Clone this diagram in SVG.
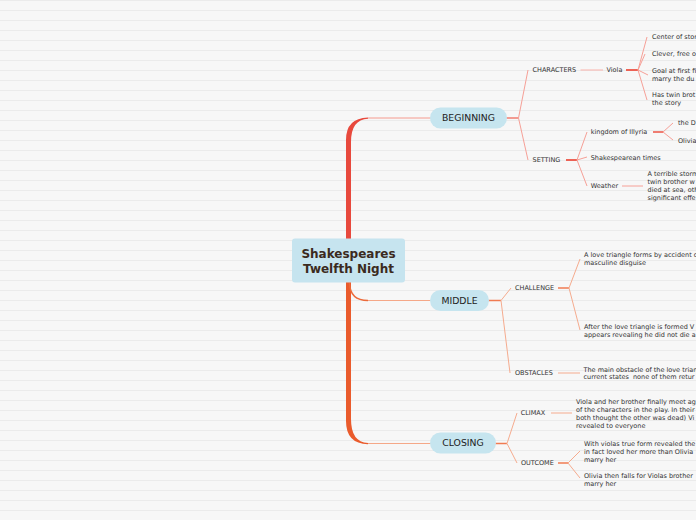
<svg xmlns="http://www.w3.org/2000/svg" width="696" height="520" viewBox="0 0 696 520">
<defs>
<pattern id="bgl" x="0" y="0" width="696" height="10" patternUnits="userSpaceOnUse">
<rect width="696" height="10" fill="#f7f7f7"/>
<rect y="0" width="696" height="1" fill="#ebebeb"/>
</pattern>
<style>
.t{font-family:"DejaVu Sans",Verdana,sans-serif;font-size:6.5px;fill:#333;white-space:pre}
.p{font-family:"DejaVu Sans",Verdana,sans-serif;font-size:9.3px;fill:#222;text-anchor:middle}
.c{font-family:"DejaVu Sans",Verdana,sans-serif;font-size:12px;font-weight:bold;fill:#3b2a20;text-anchor:middle}
.pill{fill:#c6e5ef}
.tl{stroke:#f6a097;stroke-width:1;fill:none}
.tk{stroke:#ec5345;stroke-width:1.8;fill:none}
.ml{stroke:#f5ab8e;stroke-width:1;fill:none}
.mk{stroke:#f07b52;stroke-width:1.8;fill:none}
</style>
</defs>
<rect width="696" height="520" fill="url(#bgl)"/>

<g id="connectors">
<path d="M346,240 L346,140 Q346,118.2 368,117.6 L368,118.8 Q351,119.6 351,142 L351,240 Z" fill="#e8493d"/>
<path d="M346,281 L346,421 Q346,443.8 368,444.2 L368,443 Q351,442.2 351,419 L351,281 Z" fill="#ea5b2c"/>
<path d="M349.5,283 Q350,300.5 368,300.5" stroke="#ec6a3a" stroke-width="1.5" fill="none"/>
<line x1="368" y1="118" x2="431" y2="118" stroke="#f59a8e" stroke-width="1"/>
<line x1="368" y1="300.5" x2="431" y2="300.5" stroke="#f5a888" stroke-width="1"/>
<line x1="368" y1="443.5" x2="431" y2="443.5" stroke="#f5a888" stroke-width="1"/>

<line class="tk" x1="506" y1="118" x2="518.5" y2="118" style="stroke-width:1.5;stroke:#f07c70"/>
<path class="tl" d="M518.5,118 L528,70 M518.5,118 L528,160"/>
<line class="tl" x1="580.5" y1="70" x2="603" y2="70" style="stroke:#f9b2ab"/>
<line class="tk" x1="626" y1="70" x2="638" y2="70"/>
<path class="tl" d="M638,70 L647,37 M638,70 L645,54 M638,70 L648,75 M638,70 L647,100"/>
<line class="tk" x1="566" y1="160" x2="577" y2="160"/>
<path class="tl" d="M577,160 L587,132 M577,160 L587,157 M577,160 L587,186"/>
<line class="tk" x1="653" y1="132" x2="663" y2="132" style="stroke-width:1.5"/>
<path class="tl" d="M663,132 L673,123 M663,132 L673,140"/>
<line class="tl" x1="622" y1="186" x2="643" y2="186"/>

<line class="mk" x1="488" y1="300.5" x2="501" y2="300.5" style="stroke-width:1.5"/>
<path class="ml" d="M501,300.5 L511,288 M501,300.5 L510,373"/>
<line class="mk" x1="558" y1="288" x2="569" y2="288" style="stroke-width:1.5"/>
<path class="ml" d="M569,288 L580,259 M569,288 L580,330"/>
<line class="ml" x1="558" y1="373" x2="580" y2="373"/>

<line class="mk" x1="495" y1="443.5" x2="507" y2="443.5" style="stroke-width:1.5"/>
<path class="ml" d="M507,443.5 L517,413 M507,443.5 L517,463"/>
<line class="ml" x1="551" y1="413" x2="572" y2="413"/>
<line class="mk" x1="558" y1="463" x2="568" y2="463" style="stroke-width:1.5"/>
<path class="ml" d="M568,463 L580,451 M568,463 L580,478"/>
</g>

<g id="root">
<rect x="292" y="238.5" width="113" height="44" rx="3" fill="#c6e4ef"/>
<text class="c" x="348.5" y="258.4">Shakespeares</text>
<text class="c" x="348.5" y="272.6">Twelfth Night</text>
</g>

<g id="beginning">
<rect class="pill" x="430" y="107.5" width="77" height="21" rx="10.5"/>
<text class="p" x="468.5" y="121.4">BEGINNING</text>
</g>
<g id="middle">
<rect class="pill" x="430" y="290" width="59" height="21" rx="10.5"/>
<text class="p" x="459.5" y="303.9">MIDDLE</text>
</g>
<g id="closing">
<rect class="pill" x="430" y="432.5" width="66" height="21" rx="10.5"/>
<text class="p" x="463" y="446.4">CLOSING</text>
</g>

<g id="characters"><text class="t" x="532.5" y="72.3">CHARACTERS</text></g>
<g id="viola"><text class="t" x="606.5" y="72.3">Viola</text></g>
<g id="viola-center"><text class="t" x="652" y="39.3">Center of stor</text></g>
<g id="viola-clever"><text class="t" x="652" y="56.3">Clever, free o</text></g>
<g id="viola-goal"><text class="t" x="652" y="73">Goal at first fi</text><text class="t" x="652" y="81">marry the du</text></g>
<g id="viola-twin"><text class="t" x="652" y="97.3">Has twin brot</text><text class="t" x="652" y="105.3">the story</text></g>

<g id="setting"><text class="t" x="532.5" y="162.3">SETTING</text></g>
<g id="illyria"><text class="t" x="590.7" y="134.3">kingdom of Illyria</text></g>
<g id="illyria-d"><text class="t" x="678" y="125.3">the D</text></g>
<g id="illyria-olivia"><text class="t" x="678" y="142.8">Olivia</text></g>
<g id="times"><text class="t" x="590.7" y="159.8">Shakespearean times</text></g>
<g id="weather"><text class="t" x="590.7" y="188.3">Weather</text></g>
<g id="weather-storm"><text class="t" x="647.5" y="176.3">A terrible storm</text><text class="t" x="647.5" y="184.3">twin brother w</text><text class="t" x="647.5" y="192.3">died at sea, oth</text><text class="t" x="647.5" y="200.3">significant effe</text></g>

<g id="challenge"><text class="t" x="515" y="290.3">CHALLENGE</text></g>
<g id="challenge-1"><text class="t" x="584" y="257">A love triangle forms by accident o</text><text class="t" x="584" y="265">masculine disguise</text></g>
<g id="challenge-2"><text class="t" x="584" y="329">After the love triangle is formed V</text><text class="t" x="584" y="337">appears revealing he did not die a</text></g>
<g id="obstacles"><text class="t" x="515" y="375.3">OBSTACLES</text></g>
<g id="obstacles-1"><text class="t" x="583.5" y="371.6">The main obstacle of the love trian</text><text class="t" x="583.5" y="379.4">current states  none of them retur</text></g>

<g id="climax"><text class="t" x="520.7" y="415.3">CLIMAX</text></g>
<g id="climax-1"><text class="t" x="576" y="404">Viola and her brother finally meet ag</text><text class="t" x="576" y="412">of the characters in the play. In their</text><text class="t" x="576" y="420">both thought the other was dead) Vi</text><text class="t" x="576" y="428">revealed to everyone</text></g>
<g id="outcome"><text class="t" x="521" y="465.3">OUTCOME</text></g>
<g id="outcome-1"><text class="t" x="584" y="445.6">With violas true form revealed the</text><text class="t" x="584" y="453.8">in fact loved her more than Olivia</text><text class="t" x="584" y="462">marry her</text></g>
<g id="outcome-2"><text class="t" x="584" y="478">Olivia then falls for Violas brother</text><text class="t" x="584" y="486">marry her</text></g>
</svg>
